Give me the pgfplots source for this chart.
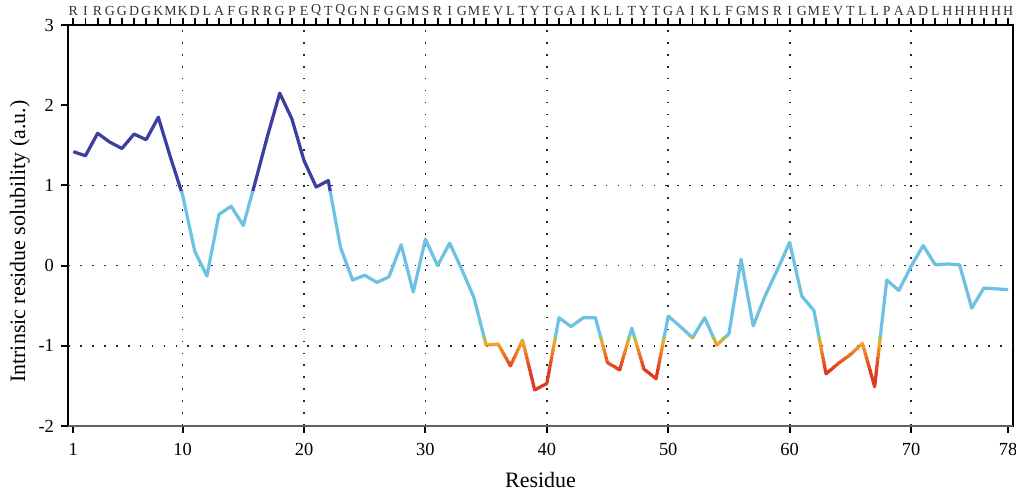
\documentclass[border=0pt]{standalone}
\usepackage{fontspec}
\setmainfont{Liberation Serif}
\usepackage{pgfplots}
\usepackage{pgfplotstable}
\pgfplotsset{compat=1.18}
\usetikzlibrary{calc}

\definecolor{solhi}{HTML}{3C3F9E}
\definecolor{solmid}{HTML}{6EC1E2}
\definecolor{g1}{HTML}{8DC7A8}
\definecolor{g2}{HTML}{A3C24A}
\definecolor{g3}{HTML}{D2B535}
\definecolor{g4}{HTML}{F0A62C}
\definecolor{g5}{HTML}{EF962B}
\definecolor{g6}{HTML}{ED852A}
\definecolor{g7}{HTML}{EB7428}
\definecolor{g8}{HTML}{E86426}
\definecolor{g9}{HTML}{E55524}
\definecolor{g10}{HTML}{E24822}
\definecolor{sollo}{HTML}{E03A20}

\pgfplotstableread{
res sol
1 1.42
2 1.37
3 1.65
4 1.54
5 1.46
6 1.64
7 1.57
8 1.85
9 1.35
10 0.88
11 0.18
12 -0.13
13 0.64
14 0.74
15 0.50
16 1.05
17 1.62
18 2.15
19 1.83
20 1.31
21 0.98
22 1.06
23 0.23
24 -0.18
25 -0.12
26 -0.21
27 -0.14
28 0.26
29 -0.33
30 0.33
31 0.00
32 0.28
33 -0.05
34 -0.40
35 -0.99
36 -0.98
37 -1.25
38 -0.93
39 -1.55
40 -1.47
41 -0.65
42 -0.76
43 -0.65
44 -0.65
45 -1.21
46 -1.30
47 -0.78
48 -1.29
49 -1.41
50 -0.63
51 -0.76
52 -0.90
53 -0.65
54 -0.99
55 -0.85
56 0.08
57 -0.75
58 -0.37
59 -0.05
60 0.29
61 -0.38
62 -0.56
63 -1.35
64 -1.22
65 -1.11
66 -0.97
67 -1.51
68 -0.18
69 -0.31
70 -0.01
71 0.25
72 0.01
73 0.02
74 0.01
75 -0.53
76 -0.28
77 -0.29
78 -0.30
}\soldata

% one colour band of the curve, clipped to ylo..yhi
\newcommand{\band}[3]{%
  \begin{scope}
    \clip (axis cs:0,#1) rectangle (axis cs:80,#2);
    \addplot[#3, line width=1.85pt, line join=round] table[x=res,y=sol] {\soldata};
  \end{scope}}

\pgfplotsset{
  frame/.style={at={(0,0)}, anchor=south west, scale only axis,
    width=18.9cm, height=8.02cm, xmin=0.56, xmax=78.4, ymin=-2, ymax=3,
    axis line style={line width=0.9pt, black}},
}

\begin{document}
\begin{tikzpicture}
\begin{axis}[frame, name=ax,
    xtick={1,10,20,30,40,50,60,70,78}, ytick={-2,-1,0,1,2,3},
    xtick pos=lower, ytick pos=left, major tick length=0pt,
    ticklabel style={font=\fontsize{10.5}{13}\selectfont},
    xticklabel style={yshift=-6.5pt},
    yticklabel style={xshift=-4.5pt},
    /pgf/number format/assume math mode=true,
    xlabel={Residue}, ylabel={Intrinsic residue solubility (a.u.)},
    label style={font=\fontsize{12.5}{14}\selectfont},
    xlabel style={at={(axis description cs:0.5,-0.135)}, anchor=center},
    ylabel style={at={(axis description cs:-0.0508,0.46)}, anchor=center}]
  \foreach \g in {10,20,30,40,50,60,70}
    {\edef\tmp{\noexpand\draw[black!85, line width=1pt, dash pattern=on 1pt off 5.8pt]
      (axis cs:\g,-2) -- (axis cs:\g,3);}\tmp}
  \foreach \g in {-1,0,1}
    {\edef\tmp{\noexpand\draw[black!85, line width=1pt, dash pattern=on 1pt off 5.8pt]
      (axis cs:0.56,\g) -- (axis cs:78.4,\g);}\tmp}
  \band{0.92}{4}{solhi}
  \band{-0.88}{0.92}{solmid}
  \band{-0.90}{-0.88}{g1}
  \band{-0.93}{-0.90}{g2}
  \band{-0.96}{-0.93}{g3}
  \band{-1.00}{-0.96}{g4}
  \band{-1.05}{-1.00}{g5}
  \band{-1.10}{-1.05}{g6}
  \band{-1.15}{-1.10}{g7}
  \band{-1.20}{-1.15}{g8}
  \band{-1.25}{-1.20}{g9}
  \band{-1.30}{-1.25}{g10}
  \band{-3}{-1.30}{sollo}
\end{axis}
% residue letters along the top
\begin{axis}[frame, axis line style={draw=none},
    xtick pos=upper, xticklabel pos=upper, ytick=\empty,
    xtick={1,...,78}, major tick length=0pt,
    xticklabels={R,I,R,G,G,D,G,K,M,K,D,L,A,F,G,R,R,G,P,E,Q,T,Q,G,N,F,G,G,M,S,R,I,G,M,E,V,L,T,Y,T,G,A,I,K,L,L,T,Y,T,G,A,I,K,L,F,G,M,S,R,I,G,M,E,V,T,L,L,P,A,A,D,L,H,H,H,H,H,H},
    xticklabel style={font=\fontsize{7.9}{8}\selectfont, inner sep=1pt, yshift=4.2pt, text=black!80}]
\end{axis}
% tick marks, outside the box
\foreach \i in {1,...,78}
  \fill[black] ($(ax.north west)!{(\i-0.56)/77.84}!(ax.north east)$) ++(-0.55pt,0pt) rectangle ++(1.1pt,4pt);
\foreach \i in {1,10,20,30,40,50,60,70,78}
  \fill[black] ($(ax.south west)!{(\i-0.56)/77.84}!(ax.south east)$) ++(-0.55pt,0pt) rectangle ++(1.1pt,-4pt);
\foreach \i in {-2,-1,0,1,2,3}
  \fill[black] ($(ax.south west)!{(\i+2)/5}!(ax.north west)$) ++(0pt,-0.55pt) rectangle ++(-4pt,1.1pt);
\draw[line width=1.3pt, black!62] (ax.south west) -- (ax.south east);
\pgfresetboundingbox
\path[use as bounding box] (-1.36,-1.32) rectangle (18.96,8.52);
\end{tikzpicture}
\end{document}
